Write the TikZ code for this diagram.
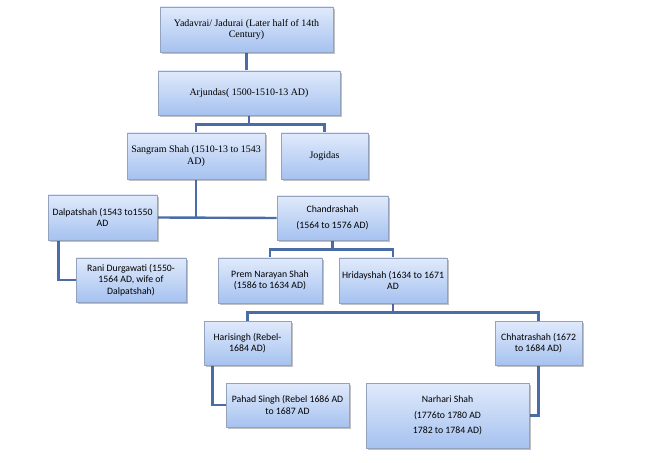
\documentclass[tikz,border=0pt]{standalone}
\usepackage{fontspec}
\setmainfont{Liberation Serif}
\newfontfamily\calfont{Carlito}
\usetikzlibrary{shadows,backgrounds}
\definecolor{boxtop}{HTML}{E0EAFB}
\definecolor{boxbot}{HTML}{A6C2F0}
\definecolor{boxedge}{HTML}{93A3BF}
\definecolor{linkcol}{HTML}{4A6DA8}
\tikzset{
  box/.style={draw=boxedge, line width=0.7bp, top color=boxtop, bottom color=boxbot,
    inner sep=0pt, align=center, text=black,
    drop shadow={shadow xshift=1.5bp, shadow yshift=-1.8bp, opacity=0.35, fill=black!70}},
  sbox/.style={box, font=\fontsize{10}{11.5}\selectfont},
  cbox/.style={box, font=\calfont\fontsize{9.8}{11.3}\selectfont},
  link/.style={draw=linkcol, line width=2.4bp}
}
\begin{document}
\begin{tikzpicture}[x=1bp,y=-1bp]
\useasboundingbox (0,0) rectangle (646,463);
\node[sbox, minimum width=173bp, minimum height=45bp] (Y) at (246.5,29.5) {Yadavrai/ Jadurai (Later half of 14th\\Century)};
\node[sbox, minimum width=182bp, minimum height=44bp] (A) at (249,93) {Arjundas( 1500-1510-13 AD)};
\node[sbox, minimum width=138bp, minimum height=46bp] (S) at (196,156) {Sangram Shah (1510-13 to 1543\\AD)};
\node[sbox, minimum width=87bp, minimum height=46bp] (J) at (324.5,156) {Jogidas};
\node[cbox, minimum width=109bp, minimum height=45bp] (D) at (102.5,217.5) {Dalpatshah (1543 to1550\\AD};
\node[cbox, minimum width=111bp, minimum height=44bp] (C) at (332.5,218) {Chandrashah\\[4.5bp](1564 to 1576 AD)};
\node[cbox, minimum width=110bp, minimum height=44bp] (R) at (131,280) {Rani Durgawati (1550-\\1564 AD, wife of\\Dalpatshah)};
\node[cbox, minimum width=104bp, minimum height=45bp] (P) at (270,280.5) {Prem Narayan Shah\\(1586 to 1634 AD)};
\node[cbox, minimum width=108bp, minimum height=45bp] (H) at (393,280.5) {Hridayshah (1634 to 1671\\AD};
\node[cbox, minimum width=87bp, minimum height=44bp] (Hs) at (247.5,343) {Harisingh (Rebel-\\1684 AD)};
\node[cbox, minimum width=87bp, minimum height=44bp] (Ch) at (538.5,343) {Chhatrashah (1672\\to 1684 AD)};
\node[cbox, minimum width=123bp, minimum height=44bp] (Ps) at (287.5,405) {Pahad Singh (Rebel 1686 AD\\to 1687 AD};
\node[cbox, minimum width=163bp, minimum height=65bp] (N) at (447.5,415.5) {Narhari Shah\\[4bp](1776to 1780 AD\\[4bp]1782 to 1784 AD)};
\begin{scope}[on background layer]
\draw[link] (Y.south) -- (Y.south |- A.north);
\draw[link] (A.south) -- ++(0,-9bp) coordinate (a1) -| (S.north);
\draw[link] (a1) -| (J.north);
\draw[link] (S.south) -- (S.south |- D.east);
\draw[link] (D.east) -- (C.west);
\draw[link] ([xshift=11bp]D.south west) |- (R.west);
\draw[link] (C.south) -- ++(0,-9bp) coordinate (c1) -| (P.north);
\draw[link] (c1) -| (H.north);
\draw[link] (H.south) -- ++(0,-9bp) coordinate (h1) -| (Hs.north);
\draw[link] (h1) -| (Ch.north);
\draw[link] ([xshift=9bp]Hs.south west) |- (Ps.west);
\draw[link] (Ch.south) |- (N.east);
\end{scope}
\end{tikzpicture}
\end{document}
